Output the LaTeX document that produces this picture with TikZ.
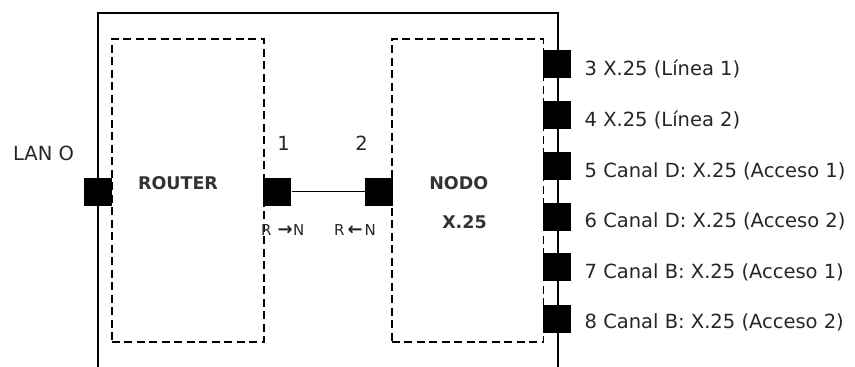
\documentclass[tikz,border=0pt]{standalone}
\usepackage{fontspec}
\setmainfont{DejaVu Sans}
\newcommand{\bigarr}[1]{{\fontsize{18}{18}\selectfont\bfseries #1}}
\begin{document}
\begin{tikzpicture}[x=1pt,y=-1pt,
  port/.style={fill=black, draw=none, minimum width=28pt, minimum height=28pt, inner sep=0pt},
  unitbox/.style={draw, dash pattern=on 8pt off 4.5pt, line width=1.6pt, inner sep=0pt},
  frame/.style={line width=1.9pt},
  lbl/.style={font=\fontsize{19.5}{21}\selectfont, anchor=base west, inner sep=0pt, text=black!85},
  numlbl/.style={font=\fontsize{19.5}{21}\selectfont, anchor=base, inner sep=0pt, text=black!85},
  boldlbl/.style={font=\fontsize{17.5}{19}\selectfont\bfseries, anchor=base, inner sep=0pt, text=black!80},
  dirlbl/.style={font=\fontsize{15}{16}\selectfont, anchor=base west, inner sep=0pt, text=black!85}]
\useasboundingbox (0,0) rectangle (855,367);
% outer frame (open at bottom)
\coordinate (fbl) at (98.2,367);
\coordinate (ftl) at (98.2,13.2);
\coordinate (ftr) at (558,13.2);
\coordinate (fbr) at (558,367);
\draw[frame] (fbl) -- (ftl) -- (ftr) -- (fbr);
% dashed units
\node[unitbox, minimum width=152pt, minimum height=303pt] (router) at (187.7,190.5) {};
\node[unitbox, minimum width=151.6pt, minimum height=303pt] (nodo) at (467.5,190.5) {};
% ports
\node[port] (lan) at (97.8,191.5) {};
\node[port] (p1) at (277.3,191.5) {};
\node[port] (p2) at (378.7,191.5) {};
\draw[line width=1.6pt] (p1) -- (p2);
\node[port] (p3) at (557,63.7) {};
\node[port] (p4) at (557,115) {};
\node[port] (p5) at (557,165.5) {};
\node[port] (p6) at (557,217) {};
\node[port] (p7) at (557,267) {};
\node[port] (p8) at (557,319) {};
% labels
\node[lbl] (llan) at (13,160.7) {LAN O};
\node[boldlbl] (lrouter) at (178,189.5) {ROUTER};
\node[boldlbl] (lnodo) at (458.8,189) {NODO};
\node[boldlbl] (lx25) at (464.5,228) {X.25};
\node[numlbl] (l1) at (283.7,150) {1};
\node[numlbl] (l2) at (361.7,150) {2};
\node[dirlbl] (lrn) at (261,235) {R\hspace{6pt}\bigarr{→}\hspace{0.5pt}N};
\node[dirlbl] (lnr) at (334,235) {R\hspace{3pt}\bigarr{←}\hspace{2pt}N};
\node[lbl] (l3) at (584.5,75.5) {3 X.25 (Línea 1)};
\node[lbl] (l4) at (584.5,126.5) {4 X.25 (Línea 2)};
\node[lbl] (l5) at (584.5,177.5) {5 Canal D: X.25 (Acceso 1)};
\node[lbl] (l6) at (584.5,227.5) {6 Canal D: X.25 (Acceso 2)};
\node[lbl] (l7) at (584.5,278) {7 Canal B: X.25 (Acceso 1)};
\node[lbl] (l8) at (584.5,328.5) {8 Canal B: X.25 (Acceso 2)};
\end{tikzpicture}
\end{document}
